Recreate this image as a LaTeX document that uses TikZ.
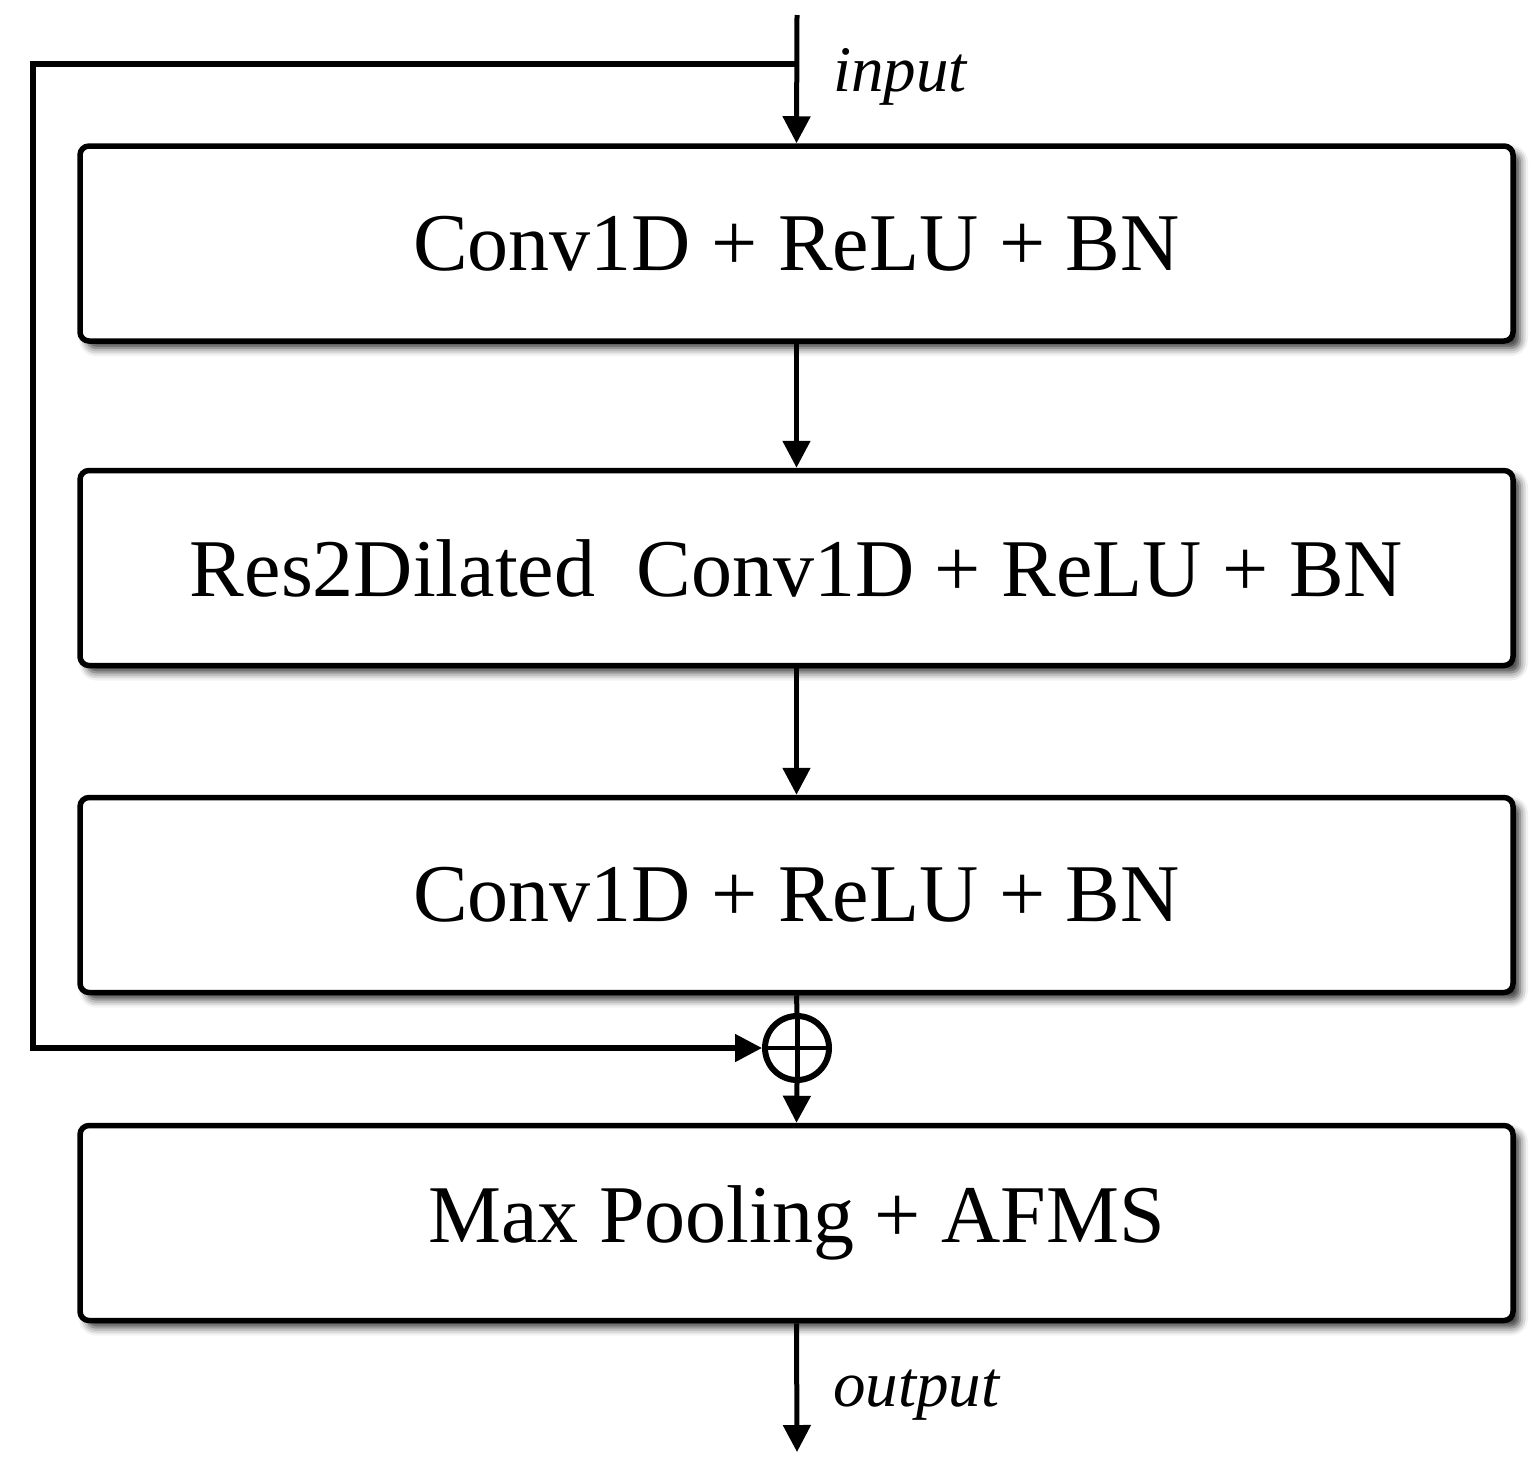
\documentclass[tikz,border=0pt]{standalone}
\usepackage{fontspec}
\setmainfont{Liberation Serif}
\usetikzlibrary{arrows.meta,shadows.blur}
\tikzset{
  blockbox/.style={draw, line width=5.5pt, rounded corners=9pt, fill=white,
    minimum width=1433pt, minimum height=195pt, inner sep=0pt,
    font=\fontsize{82}{96}\selectfont,
    blur shadow={shadow xshift=7pt, shadow yshift=-7pt, shadow blur radius=8pt, shadow opacity=80}},
  flow/.style={line width=5pt, -{Triangle[length=27pt,width=27pt]}},
  lbl/.style={font=\fontsize{65}{70}\selectfont\itshape, anchor=west, inner sep=0pt}
}
\begin{document}
\begin{tikzpicture}[x=1pt,y=-1pt]
\useasboundingbox (0,0) rectangle (1538,1470);
\node[blockbox] (b1) at (796.5,243.5) {Conv1D + ReLU + BN};
\node[blockbox] (b2) at (796.5,568) {Res2Dilated\ \ Conv1D + ReLU + BN};
\node[blockbox] (b3) at (796.5,895) {Conv1D + ReLU + BN};
\node[blockbox] (b4) at (796.5,1223) {Max Pooling + AFMS};
\node[draw, circle, line width=6pt, minimum size=64pt, inner sep=0pt] (plus) at (797,1048) {};
\draw[line width=4pt] (plus.west) -- (plus.east);
\draw[line width=5pt] (plus.north) -- (plus.south);
\coordinate (in) at (797,15);
\coordinate (split) at (797,64);
\coordinate (out) at (797,1452);
\draw[flow] (in) -- (b1.north);
\draw[line width=6pt] (split) -- (33,64) -- (33,1048) -- ([xshift=-25pt]plus.west);
\draw[flow] (33,1048) -- (plus.west);
\draw[flow] (b1.south) -- (b2.north);
\draw[flow] (b2.south) -- (b3.north);
\draw[line width=5pt] (b3.south) -- (plus.north);
\draw[flow] (plus.south) -- (b4.north);
\draw[flow] (b4.south) -- (out);
\node[lbl] (inl) at (833,77) {input};
\node[lbl] (outl) at (833,1395) {output};
\end{tikzpicture}
\end{document}
